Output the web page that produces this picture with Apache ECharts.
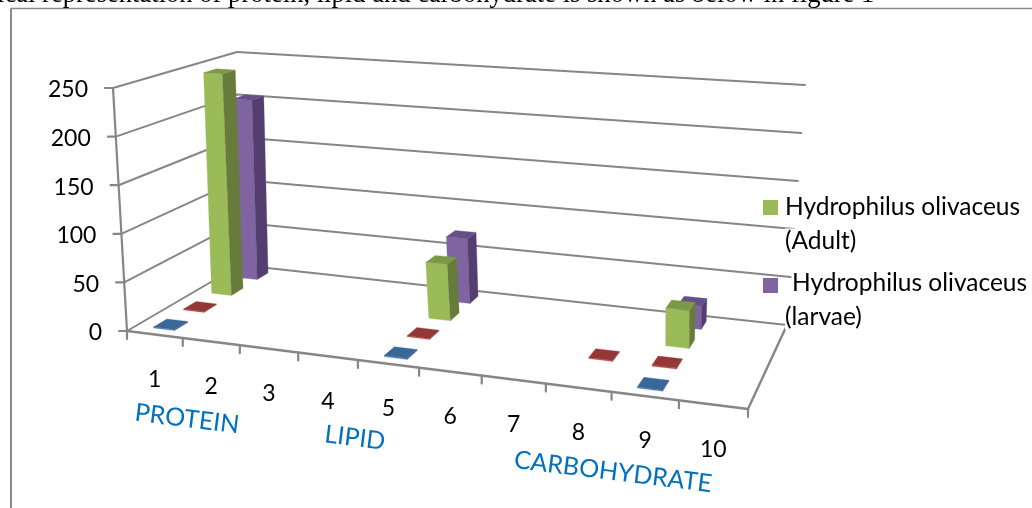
<!DOCTYPE html>
<html><head><meta charset="utf-8">
<style>html,body{margin:0;padding:0;background:#fff}#c{width:1032px;height:508px}</style>
<script src="https://cdn.jsdelivr.net/npm/echarts@6/dist/echarts.min.js"></script>
</head><body><div id="c"></div>
<script>
const categories = ['1','2','3','4','5','6','7','8','9','10'];
const axisTicks = [0,50,100,150,200,250];
const seriesNames = ['Series 1','Series 2','Hydrophilus olivaceus (Adult)','Hydrophilus olivaceus (larvae)'];
const valuesBlue   = [1,null,null,null,1,null,null,null,1,null];
const valuesRed    = [1,null,null,null,1,null,null,1,1,null];
const valuesGreen  = [244,null,null,null,59,null,null,null,38,null];
const valuesPurple = [204,null,null,null,70,null,null,null,24,null];
const groupNames = ['PROTEIN','LIPID','CARBOHYDRATE'];
const caption = 'ical representation of protein, lipid and carbohydrate is shown as below in figure 1';

const FONT = 'Lato';
const LINE = '#868686';
const faces = [
  {front:'#4F81BD', side:'#385D8A', top:'#3A6698'},
  {front:'#C0504D', side:'#8C3836', top:'#953735'},
  {front:'#9BBB59', side:'#677C3B', top:'#7C9A45'},
  {front:'#8064A2', side:'#533E6F', top:'#664F87'}
];

// perspective box: floor and ceiling quads, corners FL, FR, BR, BL
function quad(p){
  const [x0,y0]=p[0],[x1,y1]=p[1],[x2,y2]=p[2],[x3,y3]=p[3];
  const dx1=x1-x2,dx2=x3-x2,sx=x0-x1+x2-x3,dy1=y1-y2,dy2=y3-y2,sy=y0-y1+y2-y3;
  const den=dx1*dy2-dx2*dy1;
  const g=(sx*dy2-dx2*sy)/den,h=(dx1*sy-sx*dy1)/den;
  const a=x1-x0+g*x1,b=x3-x0+h*x3,d=y1-y0+g*y1,e=y3-y0+h*y3;
  return (u,w)=>{const q=g*u+h*w+1;return [(a*u+b*w+x0)/q,(d*u+e*w+y0)/q];};
}
const floorQ = quad([[127,331],[748,409],[787,325],[240,265]]);
const roofQ  = quad([[113,88],[753,136],[805,85],[237,52]]);
function P(u,v,w){
  const a=floorQ(u,w),b=roofQ(u,w);
  return [a[0]+(b[0]-a[0])*v,a[1]+(b[1]-a[1])*v];
}
function norm(params,api,x,y){
  const cs=params.coordSys,p=api.coord([x,y]);
  return [(p[0]-cs.x)/cs.width,(cs.y+cs.height-p[1])/cs.height];
}
const line=(a,b,width)=>({type:'line',shape:{x1:a[0],y1:a[1],x2:b[0],y2:b[1]},style:{stroke:LINE,lineWidth:width||2,lineCap:'round'},silent:true});
const poly=(pts,fill)=>({type:'polygon',shape:{points:pts},style:{fill:fill,stroke:fill,lineWidth:0.3},silent:true});

function barSeries(k,values){
  const depth=(k+0.5)/4, hw=0.055;
  return {
    type:'custom',name:seriesNames[k],coordinateSystem:'cartesian2d',clip:false,z:8-k,
    encode:{x:0,y:1},itemStyle:{color:faces[k].front},
    data:values.map((v,i)=>[i,v]).filter(d=>d[1]!==null),
    renderItem(params,api){
      const [u,v]=norm(params,api,api.value(0),api.value(1));
      const hu=api.size([1,0])[0]/params.coordSys.width*0.19;
      const w0=depth-hw,w1=depth+hw,u0=u-hu+0.001,u1=u+hu+0.001,c=faces[k];
      return {type:'group',children:[
        poly([P(u0,0,w0),P(u1,0,w0),P(u1,v,w0),P(u0,v,w0)],c.front),
        poly([P(u1,0,w0),P(u1,0,w1),P(u1,v,w1),P(u1,v,w0)],c.side),
        poly([P(u0,v,w0),P(u1,v,w0),P(u1,v,w1),P(u0,v,w1)],c.top)
      ]};
    }
  };
}

const wallSeries={
  type:'custom',name:'walls',coordinateSystem:'cartesian2d',clip:false,z:1,silent:true,
  encode:{x:0,y:1},
  data:axisTicks.map(t=>[0,t]),
  renderItem(params,api){
    const t=api.value(1),v=norm(params,api,0,t)[1];
    const a=P(0,v,0),b=P(0,v,1),c=P(1,v,1);
    const kids=[line(a,b),line(b,c),line(a,[a[0]-8,a[1]],2.2),
      {type:'text',x:a[0]-25,y:a[1]+2,style:{text:String(t),fill:'#000',font:'23px '+FONT,textAlign:'right',textVerticalAlign:'middle'}}];
    if(t===0){kids.push(line(c,P(1,0,0),2.4),line(a,P(1,0,0),2.4),line(a,P(0,1,0),2.2));}
    return {type:'group',children:kids};
  }
};

const catSeries={
  type:'custom',name:'categories',coordinateSystem:'cartesian2d',clip:false,z:2,silent:true,
  encode:{x:0,y:1},
  data:categories.map((c,i)=>[i,0]),
  renderItem(params,api){
    const i=api.value(0),u=norm(params,api,i,0)[0];
    const hu=api.size([1,0])[0]/params.coordSys.width/2;
    const a=P(u-hu,0,0),b=P(u+hu,0,0),m=P(u,0,0);
    const kids=[line(a,[a[0],a[1]+8],2.2),
      {type:'text',x:m[0],y:m[1]+45,style:{text:categories[i],fill:'#000',font:'23px '+FONT,textAlign:'center',textVerticalAlign:'middle'}}];
    if(i===categories.length-1)kids.push(line(b,[b[0],b[1]+8],2.2));
    return {type:'group',children:kids};
  }
};

const legendEntries=[
  {color:faces[2].front,name:seriesNames[2],mx:763,my:200,tx:785,ty:207},
  {color:faces[3].front,name:seriesNames[3],mx:763,my:278,tx:792,ty:283}
];
const textOf=(text,x,y,size,fill,extra)=>({type:'text',x,y,z:20,silent:true,style:Object.assign({text,fill,font:size+'px '+FONT,textAlign:'left',textVerticalAlign:'middle'},extra||{})});
const graphics=[
  {type:'text',x:-3,y:-18,z:20,silent:true,style:{text:caption,fill:'#000',font:'26.6px "Liberation Serif"',textVerticalAlign:'top'}},
  {type:'line',shape:{x1:11,y1:8.5,x2:1032,y2:8.5},z:0,style:{stroke:'#8a8a8a',lineWidth:1.5}},
  {type:'line',shape:{x1:11,y1:8.5,x2:11,y2:508},z:0,style:{stroke:'#8a8a8a',lineWidth:2}}
];
legendEntries.forEach(e=>{
  const parts=e.name.split(' (');
  graphics.push({type:'rect',shape:{x:e.mx,y:e.my,width:15,height:15},z:20,silent:true,style:{fill:e.color}});
  graphics.push(textOf(parts[0],e.tx,e.ty,24.5,'#000',{backgroundColor:'#fff'}));
  graphics.push(textOf('('+parts[1],785,e.ty+34,24.5,'#000',{backgroundColor:'#fff'}));
});
[[187,419,0],[355,438,1],[613,472,2]].forEach(g=>{
  graphics.push({type:'text',x:g[0],y:g[1],z:20,rotation:-7*Math.PI/180,silent:true,
    style:{text:groupNames[g[2]],fill:'#0070C0',font:'25px '+FONT,textAlign:'center',textVerticalAlign:'middle'}});
});

const chart=echarts.init(document.getElementById('c'),null,{renderer:'canvas'});
chart.setOption({
  animation:false,backgroundColor:'#fff',
  grid:{left:100,right:100,top:60,bottom:100},
  xAxis:{type:'category',data:categories,show:false},
  yAxis:{type:'value',min:0,max:250,interval:50,show:false},
  graphic:graphics,
  series:[wallSeries,catSeries,barSeries(3,valuesPurple),barSeries(2,valuesGreen),barSeries(1,valuesRed),barSeries(0,valuesBlue)]
});
</script></body></html>
